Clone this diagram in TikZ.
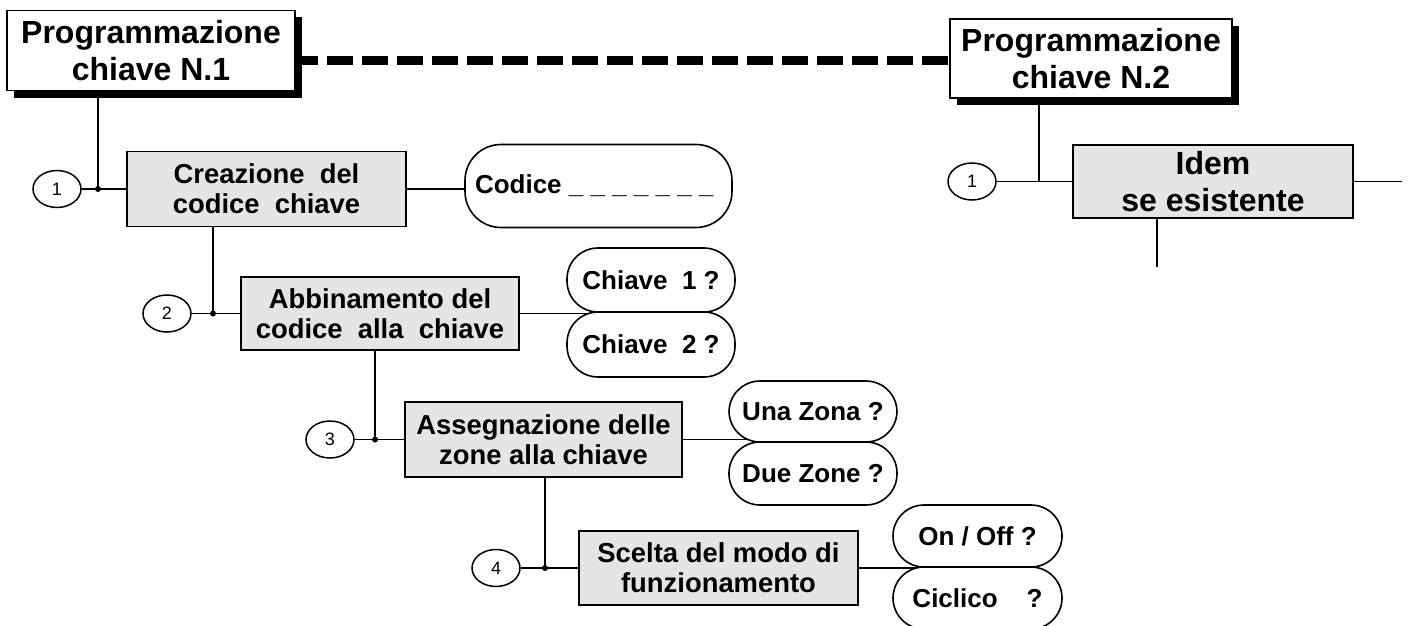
\documentclass[tikz,border=0pt]{standalone}
\usepackage{fontspec}
\setmainfont{Liberation Sans}
\usetikzlibrary{shadows,calc,shapes.geometric}
\pgfdeclarelayer{bg}
\pgfsetlayers{bg,main}
\begin{document}
\begin{tikzpicture}[x=1pt,y=-1pt,
  conn/.style={line width=1.8pt},
  titlebox/.style={draw, line width=1.6pt, fill=white, align=center, inner sep=0pt,
    font=\bfseries\fontsize{32}{37}\selectfont,
    drop shadow={opacity=1, fill=black, shadow xshift=7pt, shadow yshift=-7pt}},
  stepbox/.style={draw, line width=1.6pt, fill=gray!20, align=center, inner sep=0pt,
    font=\bfseries\fontsize{27.4}{30}\selectfont},
  pill/.style={draw, line width=1.6pt, fill=white, rounded corners=31pt, inner sep=0pt,
    align=center, minimum width=168pt, font=\bfseries\fontsize{26}{30}\selectfont},
  num/.style={draw, ellipse, line width=1.5pt, fill=white, minimum width=48pt,
    minimum height=37pt, inner sep=0pt, font=\fontsize{18}{20}\selectfont},
  junction/.style={fill, circle, inner sep=0pt, minimum size=6pt}]
\useasboundingbox (0,0) rectangle (1408,626);

% title boxes
\node[titlebox, minimum width=288pt, minimum height=80pt] (t1) at (151,50.5) {Programmazione\\chiave N.1};
\node[titlebox, minimum width=282pt, minimum height=79pt] (t2) at (1091,58.5) {Programmazione\\chiave N.2};

% step boxes
\node[stepbox, minimum width=279pt, minimum height=75pt] (b1) at (266.5,189) {Creazione\ \ del\\codice\ \ chiave};
\node[stepbox, minimum width=278pt, minimum height=73pt] (b2) at (380,313.5) {Abbinamento del\\codice\ \ alla\ \ chiave};
\node[stepbox, minimum width=277pt, minimum height=75pt] (b3) at (543.5,439.5) {Assegnazione delle\\zone alla chiave};
\node[stepbox, minimum width=279pt, minimum height=74pt] (b4) at (718.5,568) {Scelta del modo di\\funzionamento};
\node[stepbox, minimum width=280pt, minimum height=73pt, font=\bfseries\fontsize{32}{37}\selectfont] (b5) at (1213,181.5) {Idem\\se esistente};

% numbered circles
\node[num] (c1) at (57,189) {1};
\node[num] (c2) at (167,313.5) {2};
\node[num] (c3) at (330,439.5) {3};
\node[num] (c4) at (496,568) {4};
\node[num] (c5) at (972,181.5) {1};

% option pills
\node[pill, minimum width=267pt, minimum height=83pt, rounded corners=36pt] (p0) at (598.5,186)
  {\hbox to 247pt{Codice \_ \_ \_ \_ \_ \_ \_\hfil}};
\node[pill, minimum height=64pt] (p1) at (651,280) {Chiave\ \ 1 ?};
\node[pill, minimum height=65pt] (p2) at (651,344.5) {Chiave\ \ 2 ?};
\node[pill, minimum height=61pt] (p3) at (813,411.5) {Una Zona ?};
\node[pill, minimum height=63pt] (p4) at (813,473.5) {Due Zone ?};
\node[pill, minimum width=169pt, minimum height=62pt] (p5) at (977.5,536) {On / Off ?};
\node[pill, minimum width=169pt, minimum height=62pt] (p6) at (977.5,598) {Ciclico\ \ \ \ ?};

% junction coordinates
\coordinate (j1) at (98,189);
\coordinate (j2) at (213,313.5);
\coordinate (j3) at (375,439.5);
\coordinate (j4) at (545,568);
\coordinate (j5) at (1039,181.5);
\coordinate (d1) at ($(t1.east)+(0,10)$);
\coordinate (e5) at (1157,267);
\coordinate (e6) at (1402,181.5);

\begin{pgfonlayer}{bg}
  \draw[line width=9.5pt, dash pattern=on 26pt off 9pt, dash phase=4pt]
    (d1) -- (d1 -| t2.center);
  % left chain
  \draw[conn] (t1.south -| j1) -- (j1);
  \draw[conn] (c1.east) -- (b1.west);
  \draw[conn] (b1.east) -- (p0.center |- b1.east);
  \draw[conn] (b1.south -| j2) -- (j2);
  \draw[conn] (c2.east) -- (b2.west);
  \draw[conn] (b2.east) -- (p2.center |- b2.east);
  \draw[conn] (b2.south -| j3) -- (j3);
  \draw[conn] (c3.east) -- (b3.west);
  \draw[conn] (b3.east) -- (p4.center |- b3.east);
  \draw[conn] (b3.south -| j4) -- (j4);
  \draw[conn] (c4.east) -- (b4.west);
  \draw[conn] (b4.east) -- (p6.center |- b4.east);
  % right chain
  \draw[conn] (t2.south -| j5) -- (j5);
  \draw[conn] (c5.east) -- (b5.west);
  \draw[conn] (b5.east) -- (e6);
  \draw[conn] (b5.south -| e5) -- (e5);
\end{pgfonlayer}

\node[junction] (k1) at (j1) {};
\node[junction] (k2) at (j2) {};
\node[junction] (k3) at (j3) {};
\node[junction] (k4) at (j4) {};
\end{tikzpicture}
\end{document}
